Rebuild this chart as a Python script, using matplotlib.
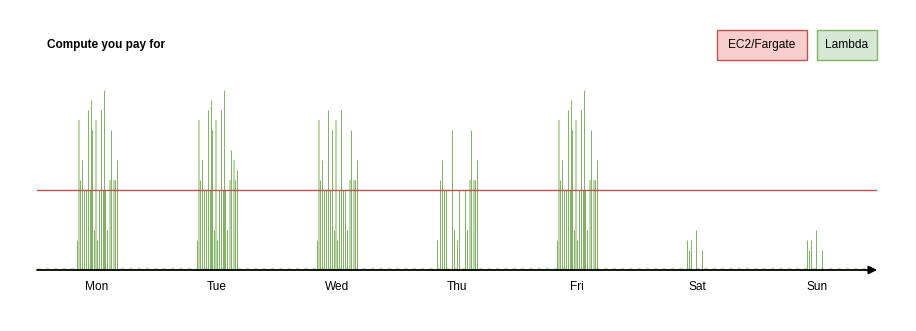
import matplotlib
matplotlib.use('Agg')
import matplotlib.pyplot as plt
from matplotlib.patches import Rectangle

plt.rcParams['font.family'] = ['Liberation Sans', 'DejaVu Sans']

days = ['Mon', 'Tue', 'Wed', 'Thu', 'Fri', 'Sat', 'Sun']
ec2_level = 8

# spike positions inside one day, in 1/120 of a day
weekday_slots = [-20, -18.5, -17, -15, -13, -11, -9, -7, -6, -5, -3, -1.5,
                 0, 2, 4, 6, 7, 8, 10, 12.5, 14, 16.5, 18, 20]
mon = [3, 15, 9, 11, 8, 8, 16, 8, 17, 14, 4, 15, 3, 8, 16, 8, 18, 8, 4, 9, 14, 9, 9, 11]
tue = [3, 15, 9, 11, 8, 8, 16, 8, 17, 14, 4, 15, 3, 8, 16, 8, 18, 8, 4, 9, 12, 11, 9, 10]
wed = [3, 15, 9, 11, 8, 8, 16, 8, 0, 14, 4, 15, 3, 8, 16, 8, 0, 8, 4, 9, 14, 9, 9, 11]
thu = [3, 0, 9, 11, 8, 8, 0, 0, 0, 14, 4, 0, 3, 8, 0, 0, 0, 8, 4, 9, 14, 9, 9, 11]
fri = [3, 15, 9, 11, 8, 8, 16, 8, 17, 14, 4, 15, 3, 8, 16, 8, 18, 8, 4, 9, 14, 9, 9, 11]
weekend_slots = [-10, -8, -6, -1, 5]
sat = [3, 2, 3, 4, 2]
sun = [3, 2, 3, 4, 2]

W, H = 916, 331
fig = plt.figure(figsize=(W / 100, H / 100), dpi=100)
# axes spans the x axis line (37..877 px) and 200 px up from the baseline (y=270)
ax = fig.add_axes([37 / W, (H - 270) / H, 840 / W, 200 / H])
ax.set_xlim(-0.5, 6.5)
ax.set_ylim(0, 20)

green = '#82b366'
light_green = '#bcd9ab'
series = [(weekday_slots, mon), (weekday_slots, tue), (weekday_slots, wed),
          (weekday_slots, thu), (weekday_slots, fri),
          (weekend_slots, sat), (weekend_slots, sun)]
for i, (slots, vals) in enumerate(series):
    for s, v in zip(slots, vals):
        if v <= 0:
            continue
        half = s != int(s)   # spikes falling between pixels look paler
        ax.vlines(i + s / 120, 0, v, color=light_green if half else green,
                  lw=1.44 if half else 0.75, snap=True, zorder=2)

# lambda baseline (dashed) and fixed EC2 capacity
ax.axhline(0.17, color='#c3dfb1', lw=1, ls=(0, (2.5, 3.5)), zorder=1)
ax.axhline(ec2_level, color='#b85450', lw=1, zorder=3)

# x axis with arrow
ax.annotate('', xy=(6.5, 0), xytext=(-0.5, 0), annotation_clip=False,
            arrowprops=dict(arrowstyle='-|>', color='black', lw=1.3,
                            mutation_scale=12, shrinkA=0, shrinkB=0), zorder=4)

ax.set_xticks(range(len(days)), days, fontsize=8.6)
ax.tick_params(axis='x', length=0, pad=8)
ax.set_yticks([])
for sp in ax.spines.values():
    sp.set_visible(False)
ax.patch.set_visible(False)

fig.text(47 / W, 1 - 45 / H, 'Compute you pay for', fontsize=8.5,
         fontweight='bold', va='center', ha='left')

def box(x0, y0, x1, y1, fc, ec, label):
    fig.add_artist(Rectangle((x0 / W, 1 - y1 / H), (x1 - x0) / W, (y1 - y0) / H,
                             transform=fig.transFigure, fc=fc, ec=ec, lw=1))
    fig.text((x0 + x1) / 2 / W, 1 - (y0 + y1) / 2 / H, label, fontsize=8.6,
             ha='center', va='center')

box(717, 30, 807, 60, '#f8cecc', '#b85450', 'EC2/Fargate')
box(817, 30, 877, 60, '#d5e8d4', '#82b366', 'Lambda')

fig.savefig('out.png', dpi=100, facecolor='white')
